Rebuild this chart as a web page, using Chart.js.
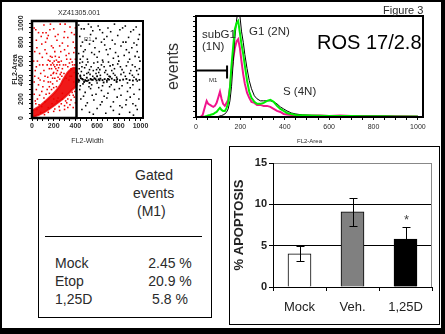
<!DOCTYPE html>
<html>
<head>
<meta charset="utf-8">
<script src="https://cdn.jsdelivr.net/npm/chart.js@4.4.0/dist/chart.umd.min.js"></script>
<style>
  body { margin: 0; width: 445px; height: 334px; background: #000; position: relative; overflow: hidden;
         font-family: "Liberation Sans", Arial, sans-serif; }
  #sheet { position: absolute; left: 2px; top: 2px; width: 439px; height: 326px; background: #fff; }
  canvas, .lbl, .box { position: absolute; }
  .lbl { white-space: nowrap; line-height: 1; color: #2a2a2a; }
  .box { border: 1px solid #000; box-sizing: border-box; }
</style>
</head>
<body>
<div id="sheet"></div>

<canvas id="dotPlot" width="160" height="145" style="left:0;top:0"></canvas>
<canvas id="histPlot" width="280" height="145" style="left:160px;top:0"></canvas>

<div class="lbl" style="left:58px;top:9px;font-size:7px">XZ41305.001</div>
<div class="lbl" style="left:84px;top:36px;font-size:6px;color:#555">R1</div>

<div class="lbl" style="left:383px;top:5px;font-size:11px">Figure 3</div>
<div class="lbl" style="left:202px;top:29px;font-size:11.5px">subG1</div>
<div class="lbl" style="left:202px;top:41px;font-size:11.5px">(1N)</div>
<div class="lbl" style="left:249px;top:26px;font-size:11.5px">G1 (2N)</div>
<div class="lbl" style="left:283px;top:86px;font-size:11.5px">S (4N)</div>
<div class="lbl" style="left:317px;top:32px;font-size:20px;color:#000">ROS 17/2.8</div>
<div class="lbl" style="left:209px;top:77px;font-size:6px">M1</div>

<div class="box" style="left:38px;top:159px;width:174px;height:159px"></div>
<div class="lbl" style="left:135px;top:168px;font-size:14px">Gated</div>
<div class="lbl" style="left:133px;top:186px;font-size:14px">events</div>
<div class="lbl" style="left:137px;top:204px;font-size:14px">(M1)</div>
<div style="position:absolute;left:45px;top:236px;width:157px;height:1px;background:#000"></div>
<div id="gatedRows"></div>

<div class="box" style="left:229px;top:146px;width:211px;height:179px"></div>
<canvas id="apoPlot" width="210" height="178" style="left:229px;top:146px"></canvas>

<script>
// ---- dot plot: FL2-Width vs FL2-Area ----
const fl2Minor = [0, 50, 100, 150, 200, 250, 300, 350, 400, 450, 500, 550, 600, 650, 700, 750, 800, 850, 900, 950, 1000];
const gateR1 = [0, 410];   // FL2-Width range of the R1 gate

// outline of the dense red population inside R1
const redBlob = [
  [10, 12], [60, 32], [121, 66], [214, 140], [307, 225], [372, 300], [410, 345],
  [410, 520], [385, 530], [350, 505], [322, 470], [300, 430], [282, 395], [262, 350],
  [220, 285], [155, 210], [80, 135], [10, 82]
];

const redDots = [
  [20, 950], [60, 900], [110, 980], [150, 870], [200, 940], [260, 990], [300, 910], [350, 960], [390, 880],
  [40, 820], [90, 780], [140, 840], [180, 760], [230, 820], [280, 790], [330, 850], [380, 800],
  [25, 700], [70, 680], [120, 720], [170, 650], [210, 700], [250, 640], [300, 720], [340, 680], [395, 740],
  [50, 600], [100, 560], [150, 610], [190, 580], [230, 560], [270, 600], [320, 620], [370, 590],
  [30, 500], [80, 470], [120, 440], [160, 520], [200, 480], [240, 430], [350, 440], [390, 480],
  [20, 380], [60, 350], [100, 330], [150, 380], [180, 300], [280, 260], [330, 200], [380, 240],
  [400, 160], [250, 120], [300, 90], [350, 140], [20, 250], [50, 200], [90, 280], [130, 250],
  [170, 380], [210, 420], [400, 620], [360, 520], [280, 520], [130, 900], [240, 880], [310, 560],
  [60, 420], [15, 600], [400, 950], [170, 990], [190, 420], [200, 560], [205, 600], [215, 650],
  [180, 520], [220, 520], [175, 450], [195, 470], [225, 470], [235, 500], [245, 530], [255, 560],
  [165, 600], [185, 640], [225, 610], [240, 590], [260, 460], [270, 480], [160, 330], [140, 300],
  [120, 170], [90, 120], [200, 200], [230, 180], [270, 150], [320, 160], [360, 190], [395, 280],
  [45, 90], [35, 150], [80, 60], [150, 110], [210, 95], [100, 900], [330, 760], [70, 560],
  [35, 930], [85, 860], [125, 800], [165, 930], [215, 860], [255, 760], [295, 850], [365, 900], [305, 990],
  [45, 740], [95, 640], [135, 680], [195, 740], [265, 700], [315, 660], [355, 620], [385, 690], [345, 580],
  [40, 540], [110, 500], [140, 560], [175, 560], [210, 540], [250, 590], [290, 560], [330, 540], [375, 560],
  [25, 440], [75, 400], [110, 390], [145, 430], [190, 360], [230, 390], [255, 410], [225, 330], [200, 320],
  [40, 300], [70, 240], [110, 210], [160, 260], [30, 180], [65, 140], [185, 150], [240, 210], [280, 200],
  [310, 180], [345, 240], [370, 270], [390, 220], [300, 130], [330, 110], [380, 110], [255, 80], [200, 70],
  [150, 60], [115, 35], [385, 380], [395, 560], [365, 440], [340, 400], [315, 420], [295, 470], [275, 440]
];

const blackDots = [
  [430, 980], [480, 940], [520, 990], [560, 920], [610, 970], [650, 900], [700, 950], [760, 990], [810, 930],
  [860, 970], [910, 910], [960, 960], [990, 880], [440, 860], [500, 820], [540, 880], [590, 840], [640, 800],
  [690, 860], [740, 820], [790, 870], [840, 800], [890, 850], [940, 790], [980, 830], [450, 760], [490, 720],
  [530, 780], [580, 740], [620, 700], [670, 770], [720, 730], [770, 690], [820, 760], [870, 720], [920, 740],
  [970, 700], [430, 680], [470, 650], [510, 620], [550, 690], [600, 640], [650, 610], [700, 670], [750, 630],
  [800, 600], [850, 660], [900, 620], [950, 650], [995, 600], [440, 580], [460, 540], [500, 560], [530, 510],
  [570, 580], [610, 530], [640, 560], [680, 500], [720, 550], [760, 520], [790, 570], [830, 510], [870, 550],
  [910, 500], [950, 540], [990, 520], [425, 470], [455, 490], [480, 450], [520, 480], [560, 440], [590, 470],
  [630, 450], [670, 480], [710, 440], [750, 470], [780, 430], [820, 460], [860, 440], [900, 470], [940, 430],
  [980, 460], [430, 380], [470, 360], [510, 390], [550, 350], [600, 370], [650, 340], [690, 380], [730, 350],
  [780, 390], [830, 340], [880, 370], [930, 350], [970, 390], [440, 300], [490, 270], [540, 310], [590, 250],
  [640, 290], [700, 260], [760, 300], [820, 240], [880, 280], [940, 250], [990, 300], [450, 200], [510, 160],
  [570, 190], [630, 140], [690, 210], [750, 170], [810, 130], [870, 190], [930, 150], [985, 200], [460, 90],
  [530, 60], [600, 100], [680, 50], [750, 80], [830, 110], [900, 60], [970, 90], [445, 620], [465, 590],
  [485, 530], [505, 470], [545, 540], [565, 500], [605, 590], [625, 510], [665, 540], [705, 590], [745, 560],
  [455, 940], [545, 960], [625, 930], [725, 910], [835, 950], [935, 930], [465, 800], [565, 810], [665, 830],
  [765, 780], [865, 800], [965, 770], [475, 700], [575, 670], [685, 720], [795, 650], [895, 690], [985, 640],
  [435, 520], [515, 590], [595, 510], [655, 590], [735, 500], [815, 540], [885, 590], [925, 560], [965, 500],
  [445, 450], [535, 460], [615, 480], [695, 460], [765, 450], [845, 480], [925, 450], [445, 340], [525, 330],
  [615, 320], [715, 330], [805, 310], [905, 320], [475, 230], [555, 240], [665, 230], [785, 220], [905, 220],
  [495, 130], [645, 170], [725, 120], [865, 140], [955, 130], [565, 40], [805, 40], [935, 30]
];

// dense band of black events around FL2-Area 400
const bandDots = [
  [420, 410], [435, 395], [450, 420], [470, 405], [490, 400], [505, 425], [520, 398], [540, 412], [560, 402],
  [575, 420], [595, 395], [615, 408], [630, 415], [650, 400], [670, 410], [690, 395], [710, 405], [735, 415],
  [760, 400], [785, 410], [810, 398], [840, 405], [870, 412], [900, 400], [930, 395], [960, 408], [990, 402],
  [445, 440], [480, 380], [530, 370], [600, 440], [660, 375], [720, 435], [780, 380], [428, 402], [462, 412],
  [498, 392], [548, 404], [585, 410], [622, 398], [700, 412]
];

// ---- DNA histogram (FL2-Area) ----
const fl2Channels = [0, 20, 30, 40, 48, 55, 63, 70, 78, 85, 93, 100, 108, 115, 122, 130, 138, 145, 153, 160, 168,
  175, 183, 190, 198, 205, 213, 220, 230, 240, 250, 263, 275, 290, 305, 320, 335, 350, 365, 380, 395, 410,
  430, 450, 480, 520, 560, 600, 650, 700, 750, 800, 850, 900, 950, 1000];
const eventsMock = [0, 0, 0, 0, 0, 0, 0, 0, 0, 0, 0, 0.5, 1, 1.5, 2, 3, 5, 8, 16, 30, 55,
  78, 96, 108, 100, 85, 74, 62, 48, 36, 28, 21, 18, 16, 16, 16, 16, 15, 13, 10, 8, 6,
  4, 3, 2, 1.5, 1.2, 1, 1, 1, 0.8, 0.8, 0.7, 0.6, 0.5, 0.4];
const eventsEtop = [0, 0, 2, 10, 16, 13, 12, 11, 10, 11, 14, 19, 25, 18, 13, 11, 14, 17, 29, 45, 58,
  68, 75, 77, 68, 55, 42, 33, 24, 19, 15, 14, 12, 12, 11, 11, 10, 8, 6, 5, 3, 2.5,
  2, 2, 1.5, 1.5, 1.5, 1, 1.5, 1, 1, 1, 1, 0.8, 0.8, 0.5];
const events125D = [0, 0, 0, 0.5, 1, 1.5, 2, 2.5, 3, 4, 5, 7, 9, 7, 6, 6, 9, 14, 29, 51, 71,
  87, 93, 95, 83, 72, 62, 51, 36, 25, 19, 15, 13, 13, 14, 16, 17, 15, 11, 8, 6, 4,
  3, 2, 1.8, 1.5, 1.2, 1, 1, 1, 0.8, 0.8, 0.7, 0.6, 0.5, 0.4];
const m1Range = [0, 140];
const m1Level = 46;

// ---- gated events table ----
const gatedNames = ["Mock", "Etop", "1,25D"];
const gatedValues = ["2.45 %", "20.9 %", "5.8 %"];

// ---- % apoptosis bars ----
const apoLabels = ["Mock", "Veh.", "1,25D"];
const apoMean = [4.0, 9.1, 5.8];
const apoErr = [0.9, 1.7, 1.5];
const apoMarks = ["", "", "*"];
const apoFills = ["#ffffff", "#808080", "#000000"];

const FONT = "'Liberation Sans', Arial, sans-serif";
Chart.defaults.font.family = FONT;
Chart.defaults.color = "#2a2a2a";

function toXY(pairs) {
  return pairs.map(function (p) { return { x: p[0], y: p[1] }; });
}

// table rows
const rows = document.getElementById("gatedRows");
gatedNames.forEach(function (name, i) {
  const top = 256 + i * 18;
  rows.insertAdjacentHTML("beforeend",
    '<div class="lbl" style="left:55px;top:' + top + 'px;font-size:14px">' + name + '</div>' +
    '<div class="lbl" style="left:140px;width:60px;text-align:center;top:' + top + 'px;font-size:14px">' + gatedValues[i] + '</div>');
});

// thick frame + gate for the dot plot
const dotFrame = {
  id: "dotFrame",
  afterDatasetsDraw: function (chart) {
    const ctx = chart.ctx, a = chart.chartArea, x = chart.scales.x;
    ctx.save();
    ctx.strokeStyle = "#000";
    ctx.lineWidth = 2;
    ctx.strokeRect(a.left, a.top, a.right - a.left, a.bottom - a.top);
    const g0 = x.getPixelForValue(gateR1[0]), g1 = x.getPixelForValue(gateR1[1]);
    ctx.lineWidth = 2.5;
    ctx.strokeRect(g0, a.top, g1 - g0, a.bottom - a.top);
    ctx.restore();
  }
};

new Chart(document.getElementById("dotPlot"), {
  type: "scatter",
  data: {
    datasets: [
      {
        type: "line",
        data: toXY(redBlob),
        borderColor: "rgba(238,0,0,0.8)",
        backgroundColor: "rgba(238,0,0,0.9)",
        borderWidth: 2,
        pointRadius: 0,
        tension: 0.4,
        fill: "shape"
      },
      { data: toXY(redDots), pointStyle: "rect", pointRadius: 1.1, backgroundColor: "#ee0000", borderWidth: 0 },
      { data: toXY(blackDots), pointStyle: "rect", pointRadius: 1.1, backgroundColor: "#000", borderWidth: 0 },
      { data: toXY(bandDots), pointStyle: "rect", pointRadius: 1.3, backgroundColor: "#000", borderWidth: 0 }
    ]
  },
  options: {
    responsive: false,
    animation: false,
    layout: { padding: { left: 0, top: 21, right: 17, bottom: 0 } },
    plugins: { legend: { display: false }, tooltip: { enabled: false } },
    scales: {
      x: {
        type: "linear", min: 0, max: 1023,
        afterBuildTicks: function (s) { s.ticks = fl2Minor.map(function (v) { return { value: v }; }); },
        afterFit: function (s) { s.height = 27; },
        grid: { drawOnChartArea: false, tickLength: 3, color: "#000" },
        border: { color: "#000", width: 2 },
        ticks: {
          autoSkip: false, maxRotation: 0, padding: 1,
          font: { size: 7, weight: "bold" },
          callback: function (v) { return v % 200 === 0 ? v : ""; }
        },
        title: { display: true, text: "FL2-Width", font: { size: 7 }, padding: { top: 1, bottom: 0 } }
      },
      y: {
        type: "linear", min: 0, max: 1023,
        afterBuildTicks: function (s) { s.ticks = fl2Minor.map(function (v) { return { value: v }; }); },
        afterFit: function (s) { s.width = 32; },
        grid: { drawOnChartArea: false, tickLength: 3, color: "#000" },
        border: { color: "#000", width: 2 },
        ticks: {
          autoSkip: false, minRotation: 90, maxRotation: 90, padding: 0, crossAlign: "center",
          font: { size: 7, weight: "bold" },
          callback: function (v) { return v % 200 === 0 ? v : ""; }
        },
        title: { display: true, text: "FL2-Area", font: { size: 7, weight: "bold" }, padding: { top: 11, bottom: 0 } }
      }
    }
  },
  plugins: [dotFrame]
});

// frame + M1 marker for the histogram
const histFrame = {
  id: "histFrame",
  afterDatasetsDraw: function (chart) {
    const ctx = chart.ctx, a = chart.chartArea, x = chart.scales.x, y = chart.scales.y;
    ctx.save();
    ctx.strokeStyle = "#000";
    ctx.lineWidth = 2;
    ctx.strokeRect(a.left, a.top, a.right - a.left, a.bottom - a.top);
    const m0 = x.getPixelForValue(m1Range[0]), m1 = x.getPixelForValue(m1Range[1]);
    const my = y.getPixelForValue(m1Level);
    ctx.beginPath();
    ctx.moveTo(m0, my); ctx.lineTo(m1, my);
    ctx.moveTo(m0, my - 5); ctx.lineTo(m0, my + 8);
    ctx.moveTo(m1, my - 5); ctx.lineTo(m1, my + 8);
    ctx.stroke();
    ctx.restore();
  }
};

function histSeries(values, color, width) {
  return {
    data: fl2Channels.map(function (c, i) { return { x: c, y: values[i] }; }),
    borderColor: color,
    borderWidth: width,
    pointRadius: 0,
    tension: 0,
    clip: 0
  };
}

new Chart(document.getElementById("histPlot"), {
  type: "line",
  data: {
    datasets: [
      histSeries(events125D, "#00ee00", 2),
      histSeries(eventsMock, "#000000", 1),
      histSeries(eventsEtop, "#f0148c", 2)
    ]
  },
  options: {
    responsive: false,
    animation: false,
    layout: { padding: { left: 0, top: 16, right: 17, bottom: 0 } },
    plugins: { legend: { display: false }, tooltip: { enabled: false } },
    scales: {
      x: {
        type: "linear", min: 0, max: 1023,
        afterBuildTicks: function (s) { s.ticks = fl2Minor.map(function (v) { return { value: v }; }); },
        afterFit: function (s) { s.height = 28; },
        grid: { drawOnChartArea: false, tickLength: 3, color: "#000" },
        border: { color: "#000", width: 2 },
        ticks: {
          autoSkip: false, maxRotation: 0, padding: 3,
          font: { size: 7 },
          callback: function (v) { return v % 200 === 0 ? v : ""; }
        },
        title: { display: true, text: "FL2-Area", font: { size: 6 }, padding: { top: 1, bottom: 0 } }
      },
      y: {
        type: "linear", min: 0, max: 100,
        ticks: { display: false, stepSize: 5 },
        afterFit: function (s) { s.width = 36; },
        grid: { drawOnChartArea: false, tickLength: 3, color: "#000" },
        border: { color: "#000", width: 2 },
        title: { display: true, text: "events", font: { size: 16 }, color: "#333", padding: { top: 4, bottom: 0 } }
      }
    }
  },
  plugins: [histFrame]
});

// error bars, significance mark and grey right edge for the apoptosis chart
const errorBars = {
  id: "errorBars",
  afterDatasetsDraw: function (chart) {
    const ctx = chart.ctx, a = chart.chartArea, y = chart.scales.y;
    const meta = chart.getDatasetMeta(0);
    ctx.save();
    ctx.strokeStyle = "#888";
    ctx.lineWidth = 1;
    ctx.beginPath();
    ctx.moveTo(a.right - 0.5, a.top); ctx.lineTo(a.right - 0.5, a.bottom);
    ctx.stroke();
    ctx.strokeStyle = "#000";
    meta.data.forEach(function (bar, i) {
      const cx = Math.round(bar.x) + 0.5;
      const hi = Math.round(y.getPixelForValue(apoMean[i] + apoErr[i])) + 0.5;
      const lo = Math.round(y.getPixelForValue(apoMean[i] - apoErr[i])) + 0.5;
      ctx.beginPath();
      ctx.moveTo(cx, hi); ctx.lineTo(cx, lo);
      ctx.moveTo(cx - 4, hi); ctx.lineTo(cx + 4, hi);
      ctx.moveTo(cx - 4, lo); ctx.lineTo(cx + 4, lo);
      ctx.stroke();
      if (apoMarks[i]) {
        ctx.fillStyle = "#444";
        ctx.font = "13px " + FONT;
        ctx.textAlign = "center";
        ctx.textBaseline = "middle";
        ctx.fillText(apoMarks[i], cx, hi - 7);
      }
    });
    ctx.restore();
  }
};

new Chart(document.getElementById("apoPlot"), {
  type: "bar",
  data: {
    labels: apoLabels,
    datasets: [
      {
        data: apoMean,
        backgroundColor: apoFills,
        borderColor: "#000",
        borderWidth: 1,
        barThickness: 23
      }
    ]
  },
  options: {
    responsive: false,
    animation: false,
    layout: { padding: { left: 0, top: 17, right: 7, bottom: 0 } },
    plugins: { legend: { display: false }, tooltip: { enabled: false } },
    scales: {
      x: {
        afterFit: function (s) { s.height = 37; },
        grid: { drawOnChartArea: false, tickLength: 4, color: "#000" },
        border: { color: "#000" },
        ticks: { padding: 9, font: { size: 13 }, color: "#222" }
      },
      y: {
        min: 0, max: 15,
        afterFit: function (s) { s.width = 44; },
        grid: {
          color: function (c) { return c.tick && c.tick.value === 15 ? "#888" : "#000"; },
          tickColor: "#000",
          tickLength: 4
        },
        border: { color: "#000" },
        ticks: { stepSize: 5, padding: 2, font: { size: 11, weight: "bold" }, color: "#222" },
        title: { display: true, text: "% APOPTOSIS", font: { size: 13, weight: "bold" }, color: "#222", padding: { top: 3, bottom: 0 } }
      }
    }
  },
  plugins: [errorBars]
});
</script>
</body>
</html>
